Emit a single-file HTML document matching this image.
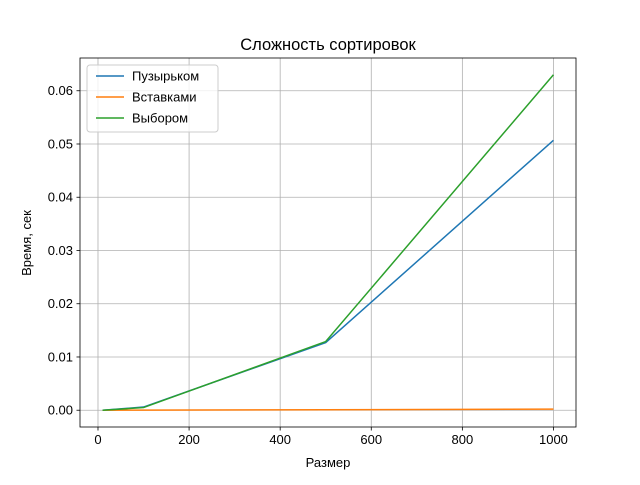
<!DOCTYPE html>
<html><head><meta charset="utf-8"><style>
body{margin:0;background:#fff}
svg text{font-family:"Liberation Sans","DejaVu Sans",sans-serif;fill:#000}
</style></head><body>
<svg id="chart" width="640" height="480">
<rect x="0" y="0" width="640" height="480" fill="#fff"/>
<text x="328" y="50" font-size="16.5" text-anchor="middle">Сложность сортировок</text>
<g id="grid"></g><g id="series"></g><g id="axes"></g>
<text x="328" y="467" font-size="13" text-anchor="middle">Размер</text>
<text transform="translate(31,243) rotate(-90)" font-size="13" text-anchor="middle">Время, сек</text>
<g id="legend"></g>
</svg>
<script>
const sizes=[10,100,500,1000];
const bubble=[0,0.0006,0.0127,0.0507];
const insertion=[0,0.00002,0.0001,0.0002];
const selection=[0,0.0005,0.0129,0.063];
const seriesNames=["Пузырьком","Вставками","Выбором"];
const xTicks=[0,200,400,600,800,1000];
const yTicks=[0,0.01,0.02,0.03,0.04,0.05,0.06];
const yTickLabels=["0.00","0.01","0.02","0.03","0.04","0.05","0.06"];
const L=80,R=576,T=58,B=427;
const xmin=-39.5,xmax=1049.5,ymin=-0.00315,ymax=0.06615;
const X=v=>L+(v-xmin)/(xmax-xmin)*(R-L);
const Y=v=>B-(v-ymin)/(ymax-ymin)*(B-T);
const NS="http://www.w3.org/2000/svg";
function mk(p,t,a){const e=document.createElementNS(NS,t);for(const k in a)e.setAttribute(k,a[k]);p.appendChild(e);return e;}
const grid=document.getElementById('grid'),axes=document.getElementById('axes'),ser=document.getElementById('series'),leg=document.getElementById('legend');
xTicks.forEach(v=>{const x=X(v);
const g=mk(grid,'line',{x1:x,x2:x,y1:T,y2:B,stroke:'#b0b0b0','stroke-width':0.8});


mk(axes,'line',{x1:x,x2:x,y1:B,y2:B+3.5,stroke:'#000','stroke-width':0.8});
const t=mk(axes,'text',{x:x,y:B+17,'font-size':13,'text-anchor':'middle'});t.textContent=v;

});
yTicks.forEach((v,i)=>{const y=Y(v);
const g=mk(grid,'line',{x1:L,x2:R,y1:y,y2:y,stroke:'#b0b0b0','stroke-width':0.8});


mk(axes,'line',{x1:L-3.5,x2:L,y1:y,y2:y,stroke:'#000','stroke-width':0.8});
const t=mk(axes,'text',{x:L-7,y:y+4.5,'font-size':13,'text-anchor':'end'});t.textContent=yTickLabels[i];

});
const fr=mk(axes,'rect',{x:L,y:T,width:R-L,height:B-T,fill:'none',stroke:'#000','stroke-width':0.8});


const colors=['#1f77b4','#ff7f0e','#2ca02c'];
[bubble,insertion,selection].forEach((d,i)=>{
const p=mk(ser,'polyline',{points:sizes.map((s,j)=>X(s)+','+Y(d[j])).join(' '),fill:'none',stroke:colors[i],'stroke-width':1.5});

});
const lb=mk(leg,'rect',{x:87,y:65,width:131,height:67,rx:3,fill:'#fff','fill-opacity':0.8,stroke:'#ccc'});


seriesNames.forEach((n,i)=>{const y=76+i*21;
mk(leg,'line',{x1:96,x2:124,y1:y,y2:y,stroke:colors[i],'stroke-width':1.5});
const t=mk(leg,'text',{x:132,y:y+4.5,'font-size':13});t.textContent=n;

});
</script>
</body></html>
